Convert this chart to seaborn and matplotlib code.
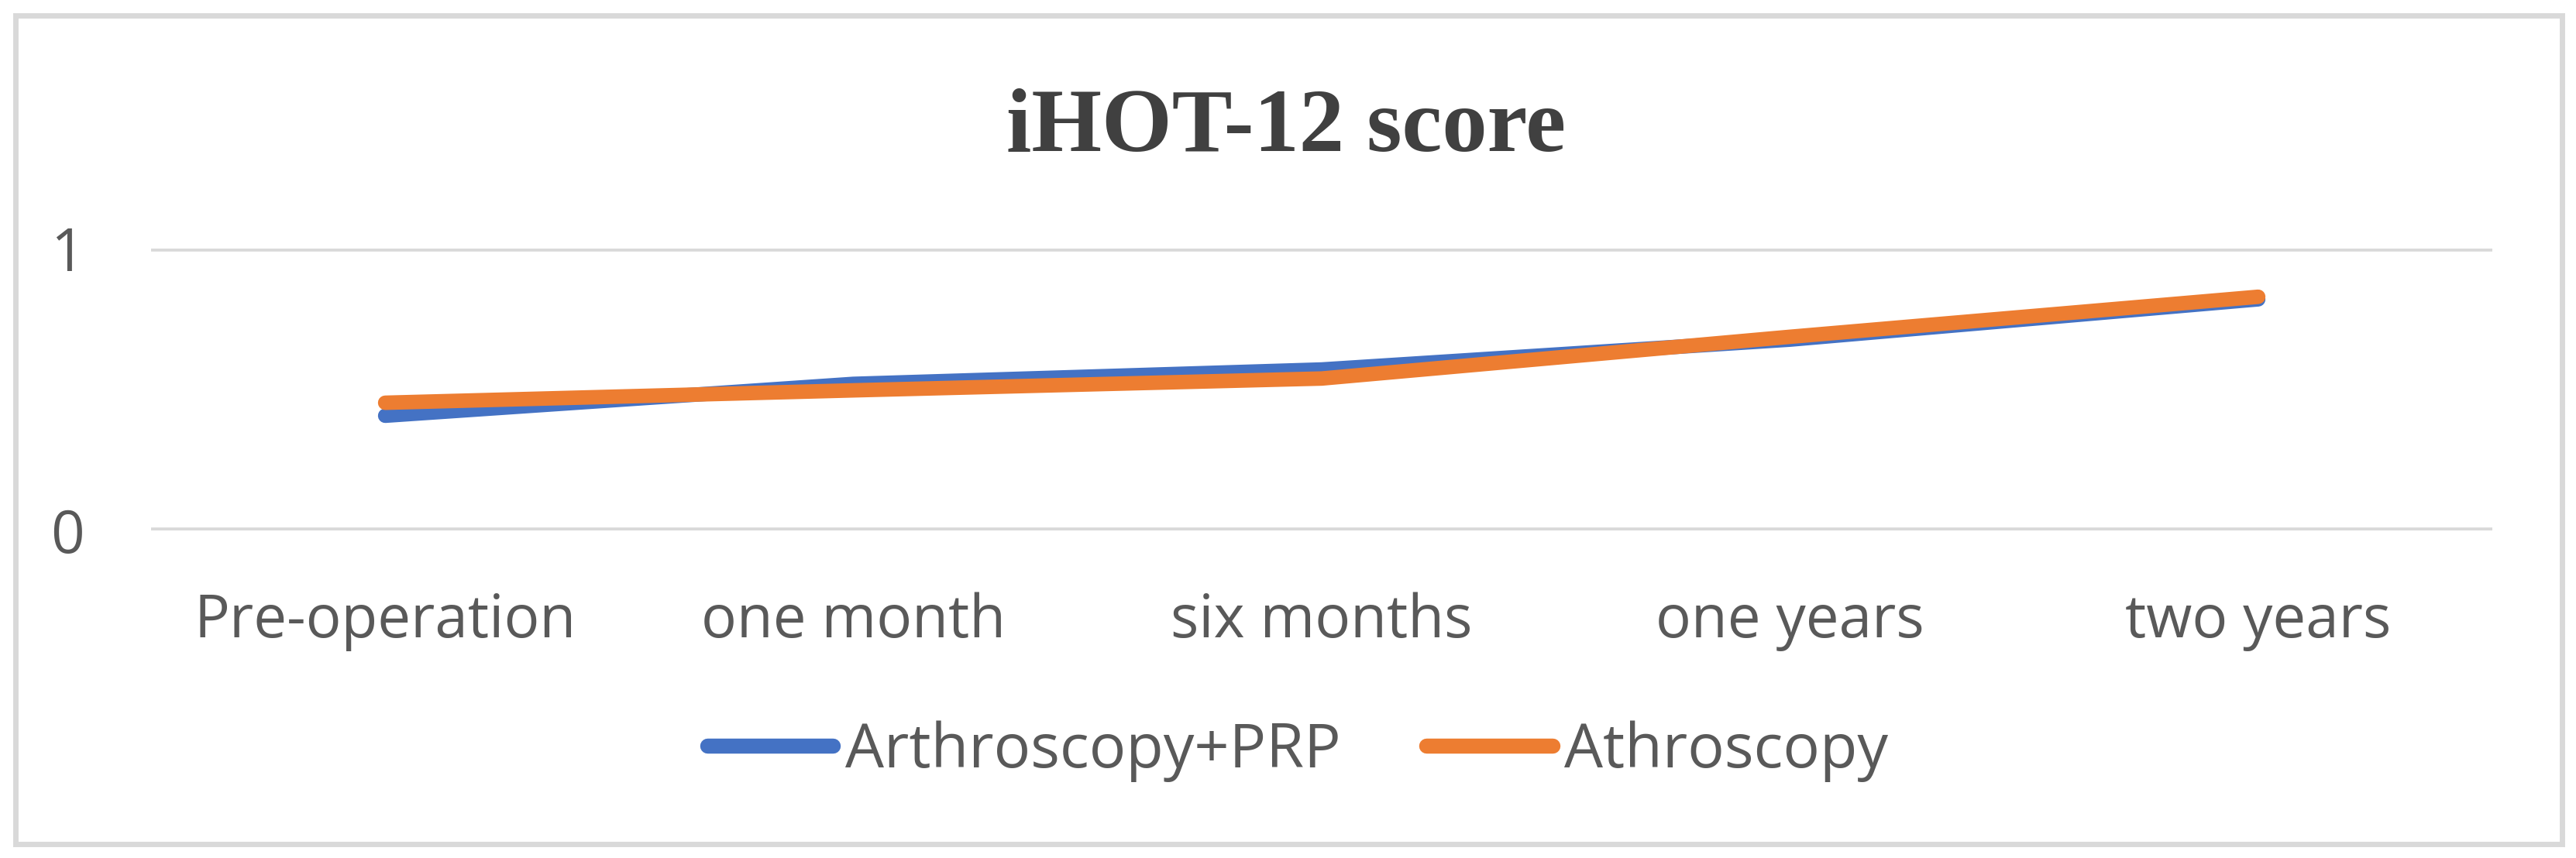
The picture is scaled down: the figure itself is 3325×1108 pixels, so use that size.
import pandas as pd
import matplotlib
matplotlib.use("Agg")
import matplotlib.pyplot as plt
import seaborn as sns
from matplotlib.patches import Rectangle

# ---------------------------------------------------------------------------
# data
# ---------------------------------------------------------------------------
timepoints = ["Pre-operation", "one month", "six months", "one years", "two years"]
prp_scores = [0.407, 0.52, 0.571, 0.677, 0.82]      # Arthroscopy+PRP
scope_scores = [0.453, 0.497, 0.539, 0.687, 0.829]  # Athroscopy
series_names = ["Arthroscopy+PRP", "Athroscopy"]
series_colors = ["#4472C4", "#ED7D31"]
title_text = "iHOT-12 score"

df = pd.DataFrame({
    "time": timepoints * 2,
    "score": prp_scores + scope_scores,
    "group": [series_names[0]] * len(timepoints) + [series_names[1]] * len(timepoints),
})

sns.set_theme(style="white")
plt.rcParams['font.family'] = ['Open Sans', 'DejaVu Sans']

W, H = 3325, 1108
fig = plt.figure(figsize=(W / 100, H / 100), dpi=100)
ax = fig.add_axes([195 / W, 1 - 685 / H, (3217 - 195) / W, (685 - 321) / H])

sns.lineplot(data=df, x="time", y="score", hue="group", sort=False,
             palette=series_colors, linewidth=13.5, ax=ax, legend=True)

for line in ax.lines:
    line.set_solid_capstyle('round')
    line.set_clip_on(False)

ax.set_xlim(-0.5, len(timepoints) - 0.5)
ax.set_ylim(0, 1)
ax.set_yticks([0, 1])
ax.set_yticklabels(["0", "1"])
ax.set_xlabel("")
ax.set_ylabel("")
for s in ax.spines.values():
    s.set_visible(False)
ax.yaxis.grid(True, color="#d9d9d9", linewidth=5.5)
ax.set_axisbelow(True)
ax.tick_params(axis='both', length=0, labelsize=55, colors="#595959")
ax.tick_params(axis='x', pad=57)
ax.tick_params(axis='y', pad=62)

# legend along the bottom
ax.get_legend().remove()
handles, labels = ax.get_legend_handles_labels()
leg = fig.legend(handles, labels, loc='center', bbox_to_anchor=(1675 / W, 1 - 970 / H),
                 ncol=2, frameon=False, fontsize=57, handlelength=2.05,
                 handletextpad=0.2, columnspacing=1.4, labelcolor="#595959")
for h in leg.get_lines():
    h.set_linewidth(14)
    h.set_solid_capstyle('round')

fig.text(1660 / W, 1 - 167 / H, title_text, ha='center', va='center',
         fontsize=84, fontweight='bold', color="#404040", family='Liberation Serif')

# chart-area border
fig.patches.append(Rectangle((20 / W, 1 - 1090 / H), (3307 - 20) / W, (1090 - 20) / H,
                             transform=fig.transFigure, fill=False,
                             edgecolor="#d9d9d9", linewidth=5))

fig.savefig("out.png", dpi=100, facecolor="white")
